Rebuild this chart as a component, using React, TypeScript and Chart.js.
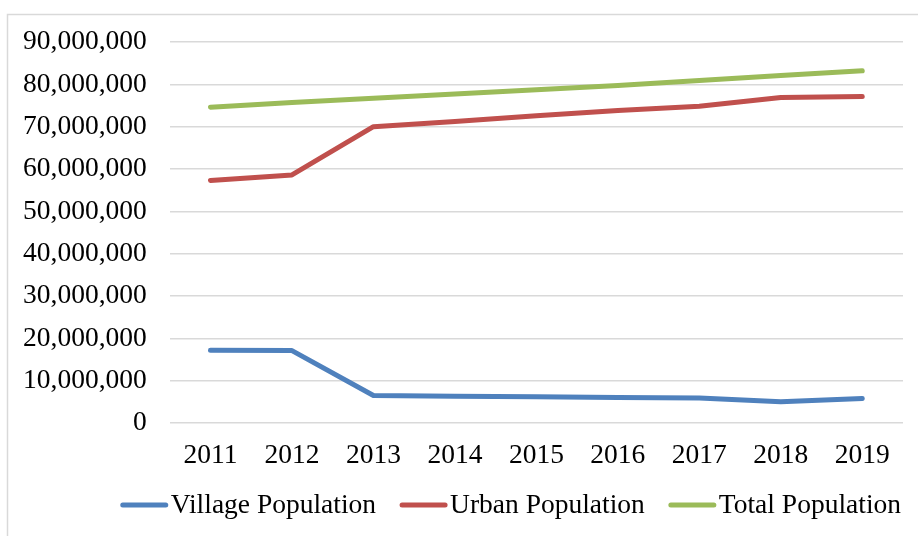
import React, { useEffect, useRef } from "react";
import { Chart, registerables } from "chart.js";

Chart.register(...registerables);

const years = ["2011", "2012", "2013", "2014", "2015", "2016", "2017", "2018", "2019"];
const villagePopulation = [17200000, 17100000, 6500000, 6300000, 6200000, 6000000, 5900000, 5000000, 5800000];
const urbanPopulation = [57300000, 58600000, 70000000, 71200000, 72600000, 73800000, 74800000, 76900000, 77100000];
const totalPopulation = [74600000, 75700000, 76700000, 77700000, 78700000, 79700000, 80900000, 82100000, 83200000];
const seriesNames = ["Village Population", "Urban Population", "Total Population"];
const seriesColors = ["#4f81bd", "#c0504d", "#9bbb59"];

const FONT = "'Liberation Serif', 'Times New Roman', serif";
const FONT_SIZE = 27.5;

const frameAndLegend = {
  id: "frameAndLegend",
  beforeDraw(chart: any) {
    const ctx = chart.ctx;
    ctx.save();
    ctx.fillStyle = "#ffffff";
    ctx.fillRect(0, 0, chart.width, chart.height);
    ctx.strokeStyle = "#d9d9d9";
    ctx.lineWidth = 1.5;
    ctx.strokeRect(7.5, 14.5, chart.width + 100, chart.height + 100);
    ctx.restore();
  },
  afterDraw(chart: any) {
    const ctx = chart.ctx;
    ctx.save();
    ctx.font = `${FONT_SIZE}px ${FONT}`;
    ctx.textBaseline = "middle";
    ctx.textAlign = "left";
    const lineLen = 47;
    const gapText = 3;
    const gapItem = 24;
    let x = chart.chartArea.left - 49;
    const y = 505;
    chart.data.datasets.forEach((ds: any) => {
      ctx.strokeStyle = ds.borderColor;
      ctx.lineWidth = 5;
      ctx.lineCap = "round";
      ctx.beginPath();
      ctx.moveTo(x + 2, y);
      ctx.lineTo(x + lineLen - 2, y);
      ctx.stroke();
      x += lineLen + gapText;
      ctx.fillStyle = "#000000";
      ctx.fillText(ds.label, x, y + 1);
      x += ctx.measureText(ds.label).width + gapItem;
    });
    ctx.restore();
  },
};

export default function App() {
  const canvasRef = useRef<HTMLCanvasElement | null>(null);

  useEffect(() => {
    const canvas = canvasRef.current;
    if (!canvas) return;
    const values = [villagePopulation, urbanPopulation, totalPopulation];
    const chart = new Chart(canvas, {
      type: "line",
      data: {
        labels: years,
        datasets: values.map((v, i) => ({
          label: seriesNames[i],
          data: v,
          borderColor: seriesColors[i],
          backgroundColor: seriesColors[i],
          borderWidth: 5,
          borderCapStyle: "round",
          borderJoinStyle: "round",
          pointRadius: 0,
          tension: 0,
          fill: false,
        })),
      },
      options: {
        animation: false,
        responsive: false,
        devicePixelRatio: 1,
        layout: { padding: { left: 0, right: 15, top: 42, bottom: 47 } },
        plugins: {
          legend: { display: false },
          tooltip: { enabled: false },
        },
        scales: {
          x: {
            offset: true,
            grid: { display: false, drawTicks: false },
            border: { display: false },
            ticks: {
              padding: 16.5,
              color: "#000000",
              font: { family: FONT, size: FONT_SIZE },
              maxRotation: 0,
            },
          },
          y: {
            min: 0,
            max: 90000000,
            grid: { color: "#d9d9d9", lineWidth: 1.5, drawTicks: false },
            border: { display: false },
            ticks: {
              stepSize: 10000000,
              padding: 23,
              color: "#000000",
              font: { family: FONT, size: FONT_SIZE },
              callback: (v: any) => Number(v).toLocaleString("en-US"),
            },
          },
        },
      },
      plugins: [frameAndLegend],
    });
    return () => chart.destroy();
  }, []);

  return (
    <div style={{ position: "fixed", left: 0, top: 0, width: 918, height: 536, background: "#fff" }}>
      <canvas ref={canvasRef} width={918} height={536} style={{ display: "block" }} />
    </div>
  );
}
